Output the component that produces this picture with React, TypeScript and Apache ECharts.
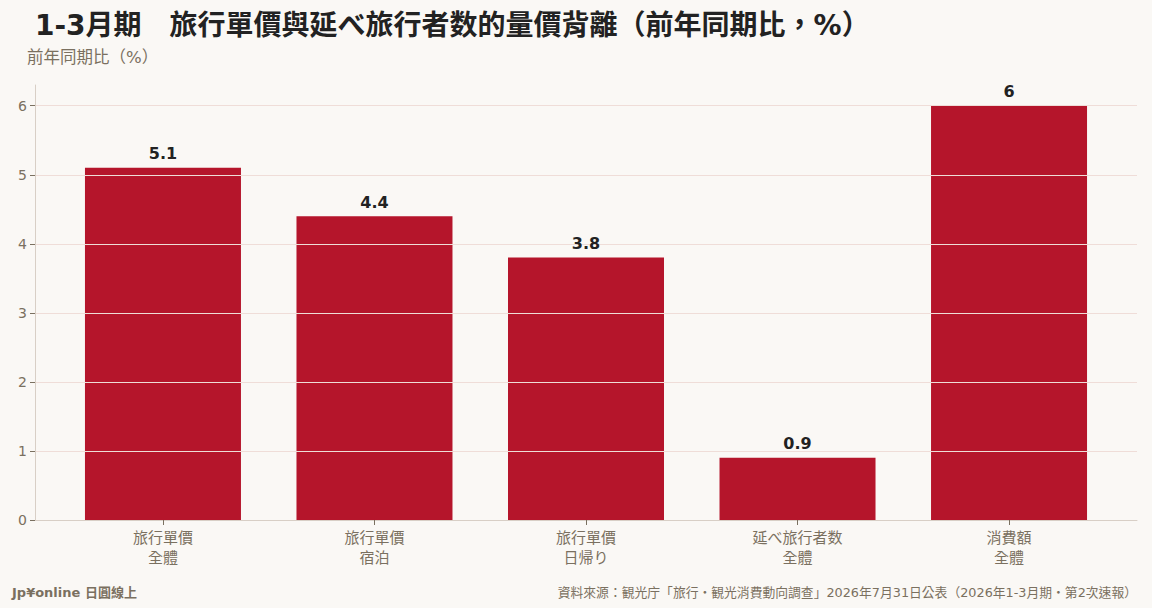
import React, { useEffect, useRef } from "react";
import * as echarts from "echarts";

const categories = ["旅行單價\n全體", "旅行單價\n宿泊", "旅行單價\n日帰り", "延べ旅行者数\n全體", "消費額\n全體"];
const values = [5.1, 4.4, 3.8, 0.9, 6];
const yTicks = [0, 1, 2, 3, 4, 5, 6];

const titleText = "1-3月期　旅行單價與延べ旅行者数的量價背離（前年同期比，%）";
const unitText = "前年同期比（%）";
const brandText = "Jp¥online 日圓線上";
const sourceText = "資料來源：観光庁「旅行・観光消費動向調查」2026年7月31日公表（2026年1-3月期・第2次速報）";

const FONT = '"DejaVu Sans", "Noto Sans CJK TC", "Noto Sans CJK JP", sans-serif';

export default function App() {
  const ref = useRef<HTMLDivElement>(null);
  useEffect(() => {
    if (!ref.current) return;
    const chart = echarts.init(ref.current, null, { renderer: "svg" });
    const catIdx = categories.map((_, i) => i);
    const points = values.map((v, i) => [i, v]);
    chart.setOption({
      animation: false,
      backgroundColor: "#faf8f5",
      textStyle: { fontFamily: FONT },
      grid: { left: 35, right: 15, top: 85, bottom: 88, containLabel: false },
      graphic: [
        {
          type: "text",
          left: 35,
          top: 11,
          style: { text: titleText, font: `bold 28px ${FONT}`, fill: "#222222" },
        },
        {
          type: "text",
          left: 27,
          top: 49,
          style: { text: unitText, font: `16.5px ${FONT}`, fill: "#7a7060" },
        },
        {
          type: "text",
          left: 12,
          top: 586,
          style: { text: brandText, font: `bold 13px ${FONT}`, fill: "#7a7060" },
        },
        {
          type: "text",
          right: 15,
          top: 586,
          style: { text: sourceText, font: `12.8px ${FONT}`, fill: "#7a7060" },
        },
      ],
      xAxis: {
        type: "value",
        min: -0.605,
        max: 4.605,
        splitLine: { show: false },
        axisLine: { show: true, onZero: false, lineStyle: { color: "#d8cfc6" } },
        axisTick: { show: true, length: 5, customValues: catIdx, lineStyle: { color: "#7a7060" } },
        axisLabel: {
          color: "#7a7060",
          fontSize: 15,
          lineHeight: 20,
          margin: 8,
          fontFamily: FONT,
          customValues: catIdx,
          formatter: (v: number) => categories[Math.round(v)] ?? "",
        },
      },
      yAxis: {
        type: "value",
        min: 0,
        max: 6.3,
        interval: 1,
        z: 3,
        axisLine: { show: true, onZero: false, lineStyle: { color: "#d8cfc6" } },
        axisTick: { show: true, length: 5, customValues: yTicks, lineStyle: { color: "#7a7060" } },
        axisLabel: { color: "#7a7060", fontSize: 14, margin: 8, customValues: yTicks, fontFamily: FONT },
        splitLine: { show: true, showMinLine: false, lineStyle: { color: "#efddd8", width: 1 } },
      },
      series: [
        {
          type: "bar",
          data: points,
          barWidth: 156,
          z: 2,
          itemStyle: { color: "#b5152b" },
        },
        {
          type: "scatter",
          data: points,
          symbolSize: 0,
          z: 5,
          silent: true,
          itemStyle: { color: "rgba(0,0,0,0)", opacity: 1 },
          label: {
            show: true,
            position: "top",
            distance: 6,
            color: "#222222",
            fontSize: 16,
            fontWeight: "bold",
            fontFamily: FONT,
            formatter: (p: any) => String(p.value[1]),
          },
        },
      ],
    });
    return () => chart.dispose();
  }, []);
  return <div ref={ref} style={{ width: 1152, height: 608, position: "absolute", left: 0, top: 0 }} />;
}
